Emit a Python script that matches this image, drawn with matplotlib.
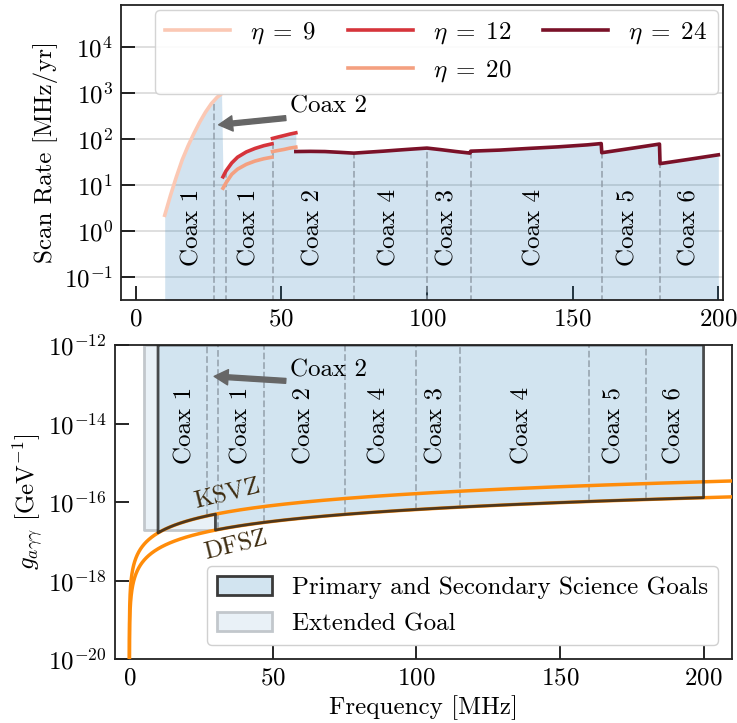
import numpy as np
import matplotlib.pyplot as plt
from matplotlib.patches import Patch
from matplotlib.lines import Line2D

plt.rcParams['font.family'] = 'cmr10'
plt.rcParams['mathtext.fontset'] = 'cm'
plt.rcParams['axes.formatter.use_mathtext'] = True
plt.rcParams['axes.unicode_minus'] = False

# Scan rate [MHz/yr] for each eta, nan splits the coax segments
f_eta9 = [10, 12, 14, 16, 18, 20, 22, 24, 26, 27, 28, 29.5]
r_eta9 = [2.2, 6, 15, 35, 70, 130, 230, 380, 580, 680, 800, 950]

f_eta12 = [30, 31, 33, 35, 38, 41, 44, 46.8, np.nan, 47, 49, 51, 53, 55]
r_eta12 = [15, 20, 30, 40, 52, 62, 71, 78, np.nan, 102, 110, 118, 127, 135]

f_eta20 = [30, 31, 33, 35, 38, 41, 44, 46.8, np.nan, 47, 49, 51, 53, 55]
r_eta20 = [8.5, 11, 17, 22, 28, 33, 37, 40, np.nan, 53, 56, 59, 63, 66]

f_eta24 = [55, 60, 65, 70, 74.8, 75, 80, 85, 90, 95, 100, 105, 110, 114.8,
           115, 125, 135, 145, 155, 159.8, 160, 170, 179.8, 180, 190, 200]
r_eta24 = [53, 53.5, 53, 51, 49, 49, 51.5, 54, 57, 60, 63, 58, 53, 49,
           54, 57, 62, 67, 74, 79, 50, 62, 77, 29, 36, 45]

# coax boundaries and labels
coax_edges = [27, 31, 47, 75, 100, 115, 160, 180]
coax_names = ['Coax 1', 'Coax 1', 'Coax 2', 'Coax 4', 'Coax 3', 'Coax 4', 'Coax 5', 'Coax 6']
coax_centers = [19.5, 39, 61, 87, 107, 137, 169, 190]

# axion-photon coupling per MHz of frequency [GeV^-1 / MHz]
ksvz_per_mhz = 1.65e-18
dfsz_per_mhz = 6.5e-19

f_start, f_switch, f_stop = 10, 30, 200
f_ext = 5

blue = '#d2e4f0'
blue_light = '#e9f1f7'
orange = '#ff8c0a'
c9, c12, c20, c24 = '#fbc8b4', '#d6343b', '#f4a080', '#7a1128'
fs = 18

fig = plt.figure(figsize=(7.37, 7.23), dpi=100)
ax1 = fig.add_axes([0.1642, 0.5851, 0.8164, 0.408])
ax2 = fig.add_axes([0.156, 0.0881, 0.8376, 0.4347])

# ---------------- scan rate ----------------
def seg(f, r):
    f = np.array(f, float)
    r = np.array(r, float)
    ok = ~np.isnan(f)
    return f[ok], r[ok]

env_f = np.concatenate([seg(f_eta9, r_eta9)[0], seg(f_eta12, r_eta12)[0], seg(f_eta24, r_eta24)[0]])
env_r = np.concatenate([seg(f_eta9, r_eta9)[1], seg(f_eta12, r_eta12)[1], seg(f_eta24, r_eta24)[1]])
ax1.fill_between(env_f, 1e-3, env_r, color='tab:blue', alpha=0.2, lw=0, zorder=1)

for x in coax_edges:
    ax1.vlines(x, 1e-3, np.interp(x, env_f, env_r), colors='#8f9ba6', linestyles='--',
               lw=1.3, alpha=0.8, zorder=2)
for x, name in zip(coax_centers, coax_names):
    ax1.text(x, 1.2, name, rotation=90, ha='center', va='center', fontsize=fs, zorder=5)

ax1.plot(f_eta9, r_eta9, color=c9, lw=2.6, label=r'$\eta\;=\;9$', zorder=3)
ax1.plot(f_eta12, r_eta12, color=c12, lw=2.6, label=r'$\eta\;=\;12$', zorder=3)
ax1.plot(f_eta20, r_eta20, color=c20, lw=2.6, label=r'$\eta\;=\;20$', zorder=3)
ax1.plot(f_eta24, r_eta24, color=c24, lw=2.6, label=r'$\eta\;=\;24$', zorder=3)

ax1.annotate('Coax 2', xy=(28, 200), xytext=(53, 500), fontsize=fs, va='center', ha='left',
             arrowprops=dict(facecolor='#666666', edgecolor='#666666', width=3.5,
                             headwidth=11, headlength=10, shrink=0.02))

ax1.set_yscale('log')
ax1.set_xlim(-5, 201.5)
ax1.set_ylim(0.032, 8e4)
ax1.set_yticks([1e-1, 1e0, 1e1, 1e2, 1e3, 1e4])
ax1.minorticks_off()
ax1.set_xticks([0, 50, 100, 150, 200])
ax1.yaxis.grid(True, color='#d9d9d9', lw=1.2)
ax1.set_axisbelow(True)
ax1.set_ylabel('Scan Rate [MHz/yr]', fontsize=fs, labelpad=4)

blank = Line2D([], [], color='none')
l9, l12, l20, l24 = ax1.get_lines()
handles = [l9, blank, l12, l20, l24, blank]
labels = [l9.get_label(), '', l12.get_label(), l20.get_label(), l24.get_label(), '']
ax1.legend(handles, labels, ncol=3, fontsize=fs, loc='upper left',
           bbox_to_anchor=(0.0565, 0.983, 0.935, 0.0), mode='expand', borderaxespad=0,
           handlelength=2.6, framealpha=0.9, edgecolor='#d0d0d0', fancybox=True)

# ---------------- coupling ----------------
f_line = np.geomspace(3e-3, 215, 600)
ax2.plot(f_line, ksvz_per_mhz * f_line, color=orange, lw=2.5, zorder=3)
ax2.plot(f_line, dfsz_per_mhz * f_line, color=orange, lw=2.5, zorder=3)

g_floor = dfsz_per_mhz * f_switch
ax2.fill_between([f_ext, f_switch], g_floor, 1e-12, facecolor=blue_light,
                 edgecolor='#c2c7cc', lw=2, zorder=1)

f_a = np.linspace(f_start, f_switch, 50)
f_b = np.linspace(f_switch, f_stop, 200)
f_goal = np.concatenate([f_a, f_b])
g_goal = np.concatenate([ksvz_per_mhz * f_a, dfsz_per_mhz * f_b])
ax2.fill_between(f_goal, g_goal, 1e-12, facecolor=blue, lw=0, zorder=1.5)
ax2.fill_between(f_goal, g_goal, 1e-12, facecolor='none', edgecolor='#222222',
                 lw=2, alpha=0.8, zorder=4)

for x in coax_edges:
    ax2.vlines(x, np.interp(x, f_goal, g_goal), 1e-12, colors='#8f9ba6', linestyles='--',
               lw=1.3, alpha=0.8, zorder=2)
for x, name in zip(coax_centers, coax_names):
    ax2.text(x, 9e-15, name, rotation=90, ha='center', va='center', fontsize=fs, zorder=5)

ax2.annotate('Coax 2', xy=(29, 1.6e-13), xytext=(56, 2.3e-13), fontsize=fs, va='center', ha='left',
             arrowprops=dict(facecolor='#666666', edgecolor='#666666', width=3.5,
                             headwidth=11, headlength=10, shrink=0.02))

ax2.text(34, 1.55e-16, 'KSVZ', rotation=14, ha='center', va='center', fontsize=fs, color='#3d2b0f')
ax2.text(37, 7.6e-18, 'DFSZ', rotation=14, ha='center', va='center', fontsize=fs, color='#3d2b0f')

ax2.set_yscale('log')
ax2.set_xlim(-5, 210)
ax2.set_ylim(1e-20, 1e-12)
ax2.set_yticks([1e-20, 1e-18, 1e-16, 1e-14, 1e-12])
ax2.minorticks_off()
ax2.set_xticks([0, 50, 100, 150, 200])
ax2.set_xlabel('Frequency [MHz]', fontsize=fs)
ax2.set_ylabel(r'$g_{a\gamma\gamma}$ [GeV$^{-1}$]', fontsize=fs, labelpad=2)

goal_handles = [Patch(facecolor=blue, edgecolor='#3a3a3a', lw=2),
                Patch(facecolor=blue_light, edgecolor='#c2c7cc', lw=2)]
ax2.legend(goal_handles, ['Primary and Secondary Science Goals', 'Extended Goal'],
           fontsize=fs, loc='lower right', bbox_to_anchor=(0.977, 0.0455), borderaxespad=0,
           handlelength=2.2, handleheight=0.8, framealpha=1, edgecolor='#d0d0d0')

for ax in (ax1, ax2):
    ax.tick_params(direction='in', length=10, width=1.2, labelsize=fs, pad=6)
    for s in ax.spines.values():
        s.set_linewidth(1.3)
        s.set_color('#222222')

fig.savefig('out.png', dpi=100)
